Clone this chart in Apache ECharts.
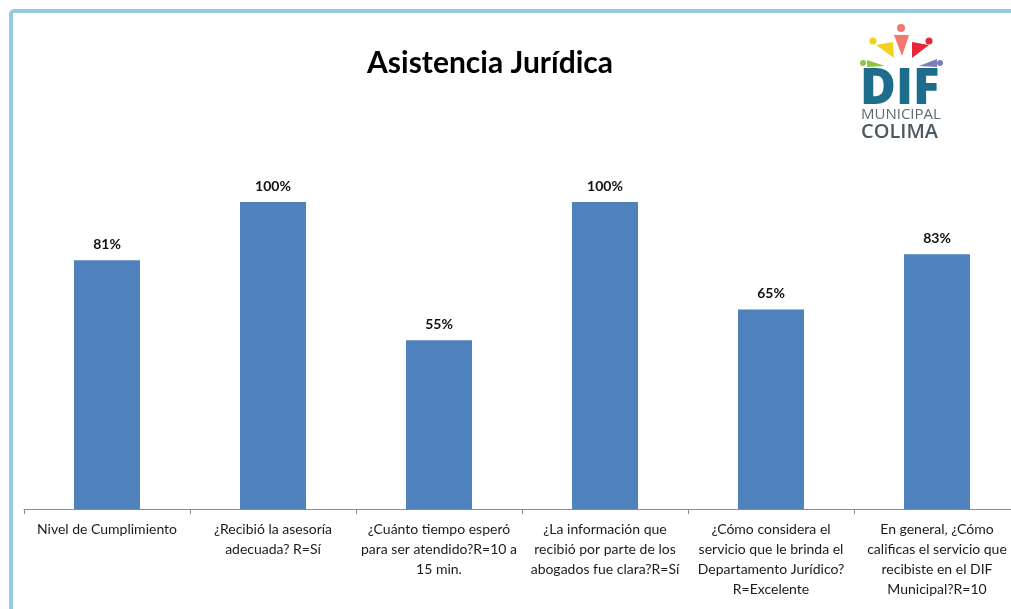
<!DOCTYPE html>
<html><head><meta charset="utf-8">
<script src="https://cdn.jsdelivr.net/npm/echarts@6/dist/echarts.min.js"></script>
<style>html,body{margin:0;padding:0;background:#fff;overflow:hidden}#c{width:1030px;height:609px}</style>
</head><body><div id="c"></div>
<script>
const categories = [
  "Nivel de Cumplimiento",
  "¿Recibió la asesoría\nadecuada? R=Sí",
  "¿Cuánto tiempo esperó\npara ser atendido?R=10 a\n15 min.",
  "¿La información que\nrecibió por parte de los\nabogados fue clara?R=Sí",
  "¿Cómo considera el\nservicio que le brinda el\nDepartamento Jurídico?\nR=Excelente",
  "En general, ¿Cómo\ncalificas el servicio que\nrecibiste en el DIF\nMunicipal?R=10"
];
const values = [81, 100, 55, 100, 65, 83];
const titleText = "Asistencia Jurídica";

const chart = echarts.init(document.getElementById('c'), null, {renderer: 'canvas'});
const font = 'Lato, "Open Sans", sans-serif';
chart.setOption({
  backgroundColor: '#ffffff',
  animation: false,
  title: {
    text: titleText, left: 485, top: 43, textAlign: 'center',
    textStyle: {fontFamily: font, fontSize: 30, fontWeight: 'bold', color: '#000'}
  },
  grid: {left: 24, top: 202, width: 996, height: 307, containLabel: false},
  xAxis: {
    type: 'category', data: categories,
    axisLine: {lineStyle: {color: '#8c8c8c', width: 1}},
    axisTick: {show: true, length: 5, lineStyle: {color: '#8c8c8c'}},
    axisLabel: {interval: 0, margin: 10, lineHeight: 20, fontFamily: font, fontSize: 14, color: '#1a1a1a', align: 'center'}
  },
  yAxis: {type: 'value', min: 0, max: 100, show: false, splitLine: {show: false}},
  series: [{
    type: 'bar', data: values, barWidth: 66,
    itemStyle: {color: '#4f81bd'},
    label: {show: true, position: 'top', distance: 9, formatter: '{c}%', fontFamily: font, fontSize: 14, fontWeight: 'bold', color: '#111'}
  }],
  graphic: [
    {type: 'rect', shape: {x: 11, y: 11, width: 1200, height: 800, r: 3}, style: {fill: null, stroke: '#93cddd', lineWidth: 4}, z: 100},
    // logo
    {type: 'text', x: 860, y: 90, style: {text: 'DIF', font: '800 49px "Open Sans", sans-serif', fill: '#1f6d8c', verticalAlign: 'middle'}},
    {type: 'text', x: 861, y: 115, style: {text: 'MUNICIPAL', font: '15px "Open Sans", sans-serif', fill: '#5f6a72', verticalAlign: 'middle'}},
    {type: 'text', x: 861, y: 132, style: {text: 'COLIMA', font: '600 20px "Open Sans", sans-serif', fill: '#4c5862', verticalAlign: 'middle'}},
    {type: 'polygon', shape: {points: [[876,45],[893,42],[894,58]]}, style: {fill: '#f3d21d'}},
    {type: 'circle', shape: {cx: 873, cy: 41, r: 3.5}, style: {fill: '#f3d21d'}},
    {type: 'polygon', shape: {points: [[894,35],[909,35],[902,56]]}, style: {fill: '#f2796b'}},
    {type: 'circle', shape: {cx: 901, cy: 28, r: 4}, style: {fill: '#f2796b'}},
    {type: 'polygon', shape: {points: [[912,42],[929,45],[912,58]]}, style: {fill: '#e8263a'}},
    {type: 'circle', shape: {cx: 929, cy: 41, r: 3.5}, style: {fill: '#e8263a'}},
    {type: 'polygon', shape: {points: [[867,60],[885,66],[867,67]]}, style: {fill: '#8dc63f'}},
    {type: 'circle', shape: {cx: 863, cy: 63, r: 3}, style: {fill: '#8dc63f'}},
    {type: 'polygon', shape: {points: [[937,59],[937,67],[919,66]]}, style: {fill: '#7a7fb8'}},
    {type: 'circle', shape: {cx: 940, cy: 63, r: 3}, style: {fill: '#7a7fb8'}}
  ]
});
</script></body></html>
